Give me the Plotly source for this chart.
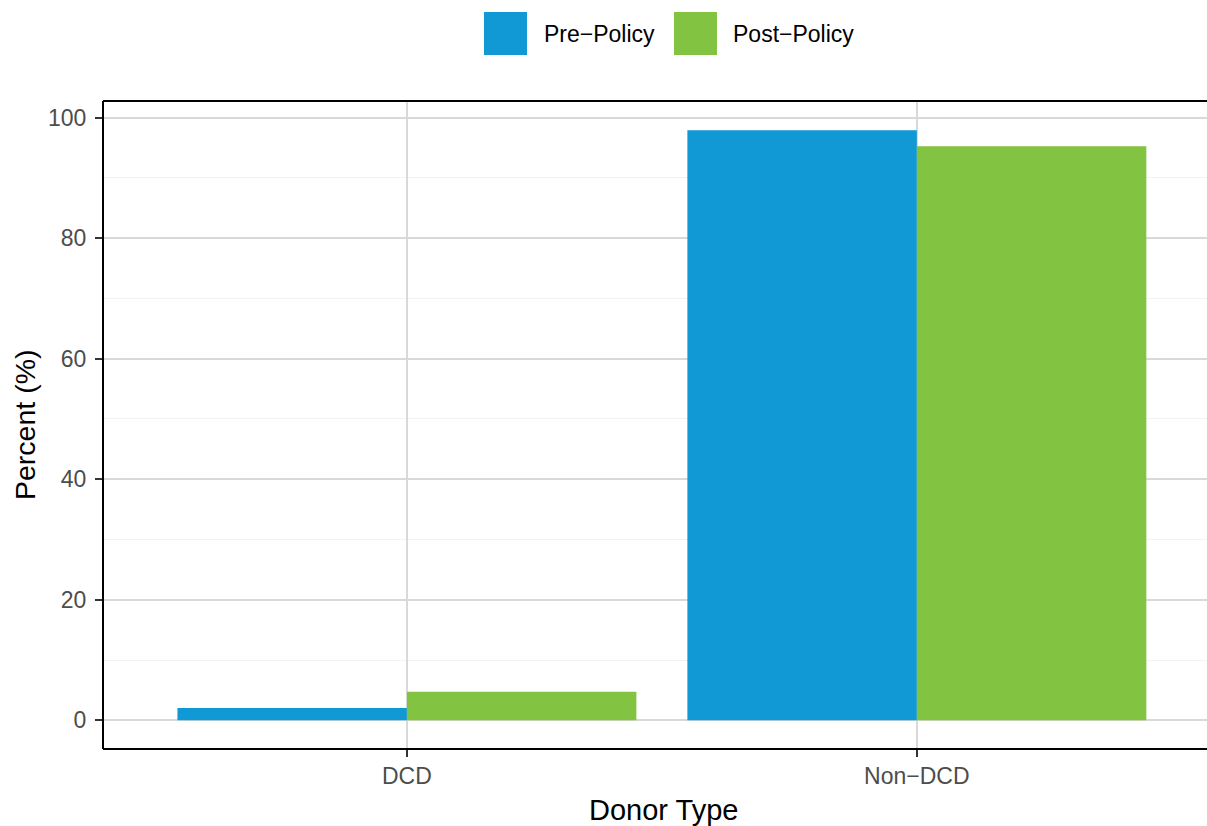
import plotly.graph_objects as go

categories = ["DCD", "Non\u2212DCD"]
pre_policy = [2.05, 97.9]
post_policy = [4.75, 95.25]
series_names = ["Pre\u2212Policy", "Post\u2212Policy"]
y_ticks = [0, 20, 40, 60, 80, 100]

BLUE = "#1199D6"
GREEN = "#82C341"

W, H = 1207, 826
ML, MR, MT, MB = 103, 0, 101, 77
PW = W - ML - MR
PH = H - MT - MB


def px_x(p):
    return (p - ML) / PW


def px_y(p):
    return (H - MB - p) / PH


fig = go.Figure()
fig.add_trace(go.Bar(x=categories, y=pre_policy, name=series_names[0],
                     marker=dict(color=BLUE, line=dict(width=0)), showlegend=False))
fig.add_trace(go.Bar(x=categories, y=post_policy, name=series_names[1],
                     marker=dict(color=GREEN, line=dict(width=0)), showlegend=False))

shapes = []
# panel borders (top, left, bottom); right side is cropped in reference
for x0, y0, x1, y1 in [(0, 1, 1, 1), (0, 0, 0, 1), (0, 0, 1, 0)]:
    shapes.append(dict(type="line", xref="paper", yref="paper", x0=x0, y0=y0, x1=x1, y1=y1,
                       line=dict(color="black", width=2), layer="above"))

# legend keys
annotations = []
legend_items = [(484, 527, BLUE, 544, series_names[0]), (674, 717, GREEN, 733, series_names[1])]
for x0, x1, col, tx, label in legend_items:
    shapes.append(dict(type="rect", xref="paper", yref="paper",
                       x0=px_x(x0), x1=px_x(x1), y0=px_y(55), y1=px_y(12),
                       fillcolor=col, line=dict(width=0)))
    annotations.append(dict(text=label, xref="paper", yref="paper", x=px_x(tx - 2), y=px_y(34),
                            xanchor="left", yanchor="middle", showarrow=False,
                            font=dict(size=23, color="black")))

annotations.append(dict(text="Donor Type", xref="paper", yref="paper", x=px_x(663), y=px_y(810),
                        xanchor="center", yanchor="middle", showarrow=False,
                        font=dict(size=29, color="black")))
annotations.append(dict(text="Percent (%)", xref="paper", yref="paper", x=px_x(25), y=px_y(425),
                        xanchor="center", yanchor="middle", showarrow=False, textangle=-90,
                        font=dict(size=28.5, color="black")))

fig.update_layout(
    width=W, height=H,
    margin=dict(l=ML, r=MR, t=MT, b=MB, pad=0),
    paper_bgcolor="white", plot_bgcolor="white",
    barmode="group", bargap=0.1, bargroupgap=0,
    font=dict(family="Liberation Sans, Arial, sans-serif"),
    shapes=shapes, annotations=annotations,
    showlegend=False,
)
fig.update_xaxes(
    range=[-0.596, 1.569], showgrid=True, gridcolor="#D9D9D9", gridwidth=2,
    ticks="outside", ticklen=7, tickwidth=2, tickcolor="#333333",
    tickfont=dict(size=23, color="#4D4D4D"), zeroline=False, showline=False,
    ticklabelstandoff=-1,
)
fig.update_yaxes(
    range=[-4.75, 102.75], tickvals=y_ticks, showgrid=True, gridcolor="#D9D9D9", gridwidth=2,
    minor=dict(dtick=10, tick0=0, showgrid=True, gridcolor="#F2F2F2", gridwidth=1),
    ticks="outside", ticklen=7, tickwidth=2, tickcolor="#333333",
    tickfont=dict(size=23, color="#4D4D4D"), zeroline=False, showline=False,
    ticklabelstandoff=4,
)

fig.write_html("out.html", config={"displayModeBar": False},
               post_script="document.body.style.margin='0';document.body.style.overflow='hidden';")
